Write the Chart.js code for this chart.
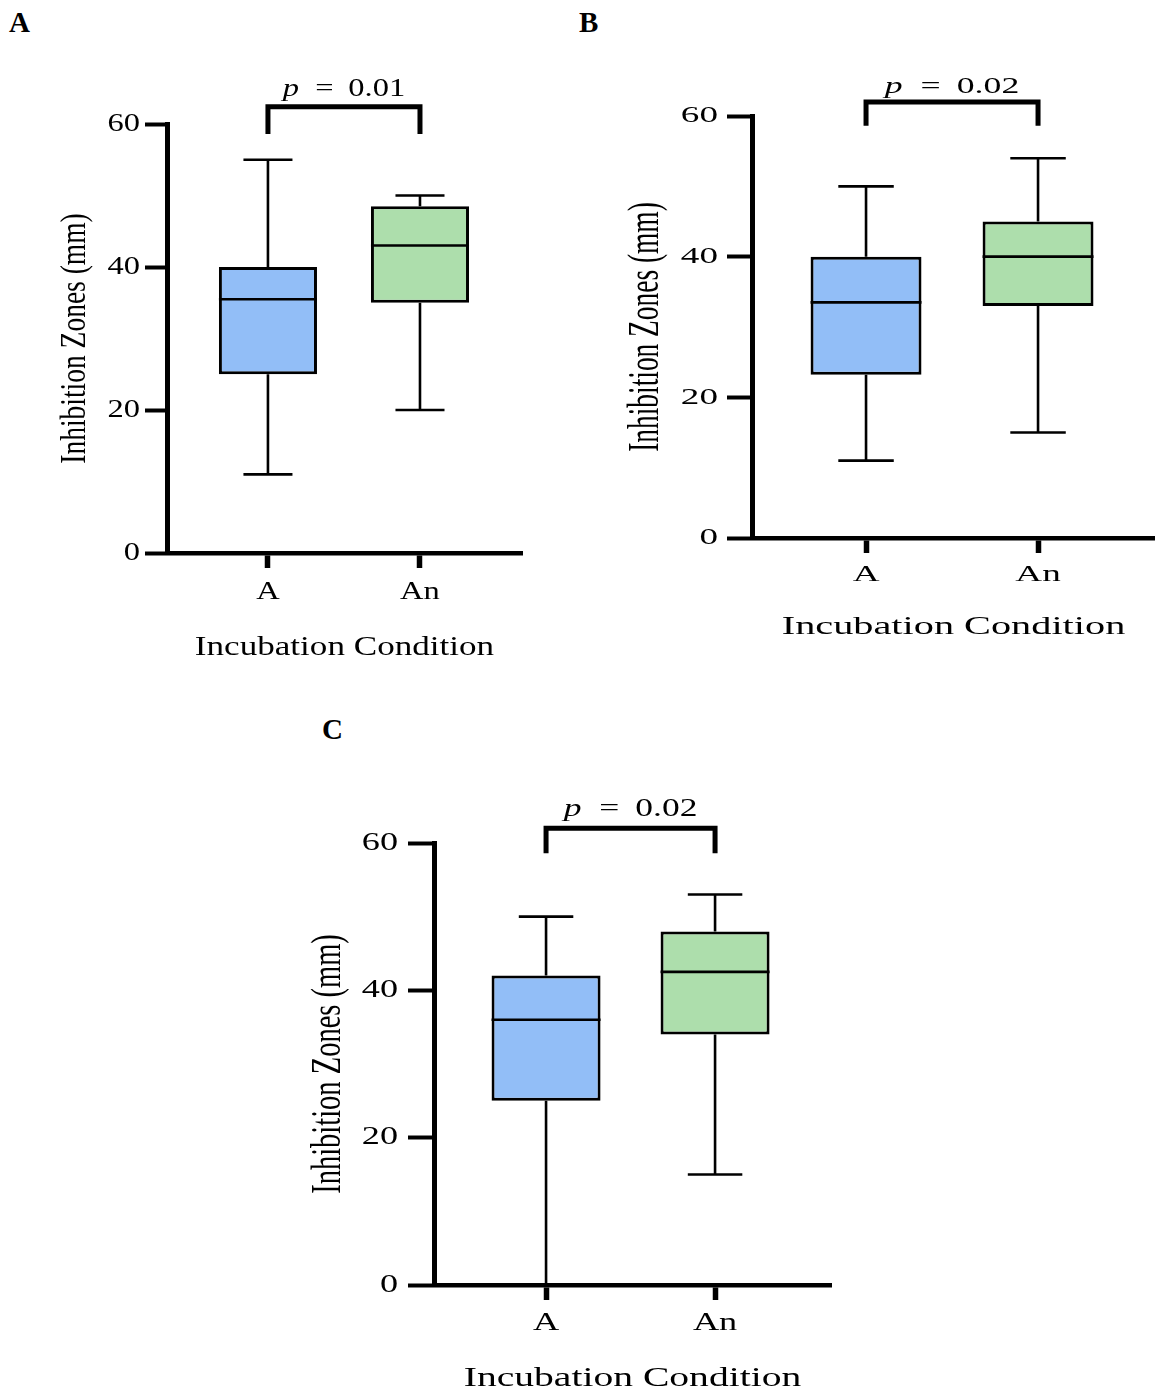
<!DOCTYPE html>
<html>
<head>
<meta charset="utf-8">
<script src="https://cdn.jsdelivr.net/npm/chart.js@4.4.1/dist/chart.umd.min.js"></script>
<style>
  html, body { margin: 0; padding: 0; background: #fff; }
  body { width: 1155px; height: 1394px; position: relative; overflow: hidden; }
  canvas { position: absolute; }
  .tag { position: absolute; font: bold 29px 'Liberation Serif', 'Times New Roman', serif; line-height: 30px; color: #000; }
</style>
</head>
<body>
<div class="tag" style="left:9px; top:7px;">A</div>
<div class="tag" style="left:579px; top:7px;">B</div>
<div class="tag" style="left:322px; top:714px;">C</div>

<canvas id="panelA" width="560" height="680" style="left:0px; top:0px;"></canvas>
<canvas id="panelB" width="585" height="660" style="left:570px; top:0px;"></canvas>
<canvas id="panelC" width="560" height="694" style="left:300px; top:700px;"></canvas>

<script>
// Groups on the x axis
const categories = ['A', 'An'];
const yTicks = [0, 20, 40, 60];
const xAxisTitle = 'Incubation Condition';
const yAxisTitle = 'Inhibition Zones (mm)';

// Panel A: five-number summaries per group
const aLow    = [11, 20];
const aQ1     = [25, 35];
const aMedian = [35.5, 43];
const aQ3     = [40, 48.5];
const aHigh   = [55, 50];

// Panel B
const bLow    = [11, 15];
const bQ1     = [23.2, 33];
const bMedian = [33.5, 40];
const bQ3     = [40, 45];
const bHigh   = [50, 54];

// Panel C
const cLow    = [0, 15];
const cQ1     = [25, 34];
const cMedian = [36, 42.5];
const cQ3     = [42, 48];
const cHigh   = [50, 53];

// Significance between the two groups in each panel
const pValues = ['0.01', '0.02', '0.02'];

const boxFills = ['#92BEF7', '#ADDEAC'];
const FONT = "'Liberation Serif', 'Times New Roman', serif";

function stretchedText(ctx, str, x, y, size, sx, opts) {
  opts = opts || {};
  ctx.save();
  ctx.translate(x, y);
  ctx.scale(sx, 1);
  ctx.font = (opts.italic ? 'italic ' : '') + size + 'px ' + FONT;
  ctx.textAlign = opts.align || 'center';
  ctx.textBaseline = 'middle';
  ctx.fillStyle = '#000';
  ctx.fillText(str, 0, 0);
  ctx.restore();
}

// Whiskers, caps and median lines on top of the floating-bar boxes
function boxDecor(stats, look) {
  return {
    id: 'boxDecor',
    afterDatasetsDraw(chart) {
      const { ctx, scales: { y } } = chart;
      const meta = chart.getDatasetMeta(0);
      ctx.save();
      ctx.strokeStyle = '#000';
      ctx.lineCap = 'butt';
      meta.data.forEach((bar, i) => {
        const cx = bar.x;
        const w = bar.width;
        const pLow = y.getPixelForValue(stats.low[i]);
        const pHigh = y.getPixelForValue(stats.high[i]);
        const pQ1 = y.getPixelForValue(stats.q1[i]);
        const pQ3 = y.getPixelForValue(stats.q3[i]);
        const pMed = y.getPixelForValue(stats.median[i]);
        ctx.lineWidth = look.whisker;
        ctx.beginPath();
        ctx.moveTo(cx, pQ1); ctx.lineTo(cx, pLow);
        ctx.moveTo(cx - w / 4, pLow); ctx.lineTo(cx + w / 4, pLow);
        ctx.moveTo(cx, pQ3); ctx.lineTo(cx, pHigh);
        ctx.moveTo(cx - w / 4, pHigh); ctx.lineTo(cx + w / 4, pHigh);
        ctx.stroke();
        ctx.lineWidth = look.median;
        ctx.beginPath();
        ctx.moveTo(cx - w / 2, pMed); ctx.lineTo(cx + w / 2, pMed);
        ctx.stroke();
      });
      ctx.restore();
    }
  };
}

// Tick labels, axis titles and the significance bracket
function panelText(pValue, look) {
  return {
    id: 'panelText',
    afterDraw(chart) {
      const { ctx, chartArea, scales: { x, y } } = chart;
      const s = look.stretch;
      y.ticks.forEach(t => {
        stretchedText(ctx, String(t.value), chartArea.left - look.yTickGap,
          y.getPixelForValue(t.value), look.tickSize, s, { align: 'right' });
      });
      x.ticks.forEach(t => {
        stretchedText(ctx, categories[t.value], x.getPixelForValue(t.value),
          chartArea.bottom + look.xTickGap, look.tickSize, s);
      });
      stretchedText(ctx, xAxisTitle, (chartArea.left + chartArea.right) / 2,
        chartArea.bottom + look.xTitleGap, look.titleSize, s);

      ctx.save();
      ctx.translate(chartArea.left - look.yTitleGap, (chartArea.top + chartArea.bottom) / 2);
      ctx.rotate(-Math.PI / 2);
      ctx.scale(1, s);
      ctx.font = look.yTitleSize + 'px ' + FONT;
      ctx.textAlign = 'center';
      ctx.textBaseline = 'middle';
      ctx.fillStyle = '#000';
      ctx.fillText(yAxisTitle, 0, 0);
      ctx.restore();

      const x0 = x.getPixelForValue(0);
      const x1 = x.getPixelForValue(1);
      const yFoot = y.getPixelForValue(look.bracketFoot);
      const yTop = y.getPixelForValue(look.bracketTop);
      ctx.save();
      ctx.strokeStyle = '#000';
      ctx.lineWidth = look.bracketWidth;
      ctx.lineJoin = 'miter';
      ctx.lineCap = 'butt';
      ctx.beginPath();
      ctx.moveTo(x0, yFoot); ctx.lineTo(x0, yTop); ctx.lineTo(x1, yTop); ctx.lineTo(x1, yFoot);
      ctx.stroke();
      ctx.restore();

      // "p = value" with an italic p, centred over the bracket
      const pSize = look.pSize;
      ctx.save();
      ctx.font = 'italic ' + pSize + 'px ' + FONT;
      const wp = ctx.measureText('p').width;
      ctx.font = pSize + 'px ' + FONT;
      const rest = '  = \u2009' + pValue;
      const wr = ctx.measureText(rest).width;
      ctx.restore();
      const total = (wp + wr) * s;
      const startX = (x0 + x1) / 2 - total / 2;
      const py = y.getPixelForValue(look.pLevel);
      stretchedText(ctx, 'p', startX, py, pSize, s, { italic: true, align: 'left' });
      stretchedText(ctx, rest, startX + wp * s, py, pSize, s, { align: 'left' });
    }
  };
}

function buildPanel(canvasId, stats, pValue, look) {
  const boxData = categories.map((c, i) => ({ x: i, y: [stats.q1[i], stats.q3[i]] }));
  return new Chart(document.getElementById(canvasId), {
    type: 'bar',
    data: {
      datasets: [{
        data: boxData,
        backgroundColor: boxFills,
        borderColor: '#000',
        borderWidth: look.boxBorder,
        borderSkipped: false,
        barPercentage: 0.645,
        categoryPercentage: 1
      }]
    },
    options: {
      responsive: false,
      animation: false,
      devicePixelRatio: 1,
      layout: { padding: { left: 0, top: look.top, right: look.right, bottom: 0 } },
      plugins: { legend: { display: false }, tooltip: { enabled: false } },
      scales: {
        x: {
          type: 'linear',
          offset: false,
          min: look.xMin,
          max: look.xMax,
          afterBuildTicks: sc => { sc.ticks = categories.map((c, i) => ({ value: i })); },
          afterFit: sc => { sc.height = look.xHeight; },
          ticks: { display: false },
          grid: { offset: false, drawOnChartArea: false, drawTicks: true, tickLength: 15, tickWidth: 5.5, color: '#000' },
          border: { display: true, color: '#000', width: 4.5 }
        },
        y: {
          min: 0,
          max: 60,
          afterBuildTicks: sc => { sc.ticks = yTicks.map(v => ({ value: v })); },
          afterFit: sc => { sc.width = look.yWidth; },
          ticks: { display: false },
          grid: { drawOnChartArea: false, drawTicks: true, tickLength: look.yTickLen, tickWidth: 4, color: '#000' },
          border: { display: true, color: '#000', width: 5 }
        }
      }
    },
    plugins: [boxDecor(stats, look), panelText(pValue, look)]
  });
}

const common = { boxBorder: 3, whisker: 2.6, median: 2.6, bracketWidth: 5, bracketFoot: 58.6, bracketTop: 62 };

buildPanel('panelA',
  { low: aLow, q1: aQ1, median: aMedian, q3: aQ3, high: aHigh }, pValues[0],
  Object.assign({}, common, {
    top: 124, right: 38, yWidth: 167, xHeight: 127, xMin: -0.664, xMax: 1.671,
    yTickLen: 22, stretch: 1.3, tickSize: 25, titleSize: 27, yTitleSize: 27.5, pSize: 25,
    yTickGap: 27, xTickGap: 39, xTitleGap: 95, yTitleGap: 91, pLevel: 64.9, bracketTop: 62.4
  }));

buildPanel('panelB',
  { low: bLow, q1: bQ1, median: bMedian, q3: bQ3, high: bHigh }, pValues[1],
  Object.assign({}, common, {
    top: 116, right: 0, yWidth: 182, xHeight: 122, xMin: -0.663, xMax: 1.68,
    yTickLen: 25, stretch: 1.58, tickSize: 23.5, titleSize: 25.5, yTitleSize: 27.4, pSize: 22.6,
    yTickGap: 34, xTickGap: 37, xTitleGap: 89, yTitleGap: 105, pLevel: 64.1
  }));

buildPanel('panelC',
  { low: cLow, q1: cQ1, median: cMedian, q3: cQ3, high: cHigh }, pValues[2],
  Object.assign({}, common, {
    top: 143, right: 29, yWidth: 134, xHeight: 109, xMin: -0.663, xMax: 1.686,
    yTickLen: 26, stretch: 1.45, tickSize: 25, titleSize: 27.3, yTitleSize: 28.5, pSize: 24.5,
    yTickGap: 36, xTickGap: 38, xTitleGap: 94, yTitleGap: 105, pLevel: 64.5
  }));
</script>
</body>
</html>
